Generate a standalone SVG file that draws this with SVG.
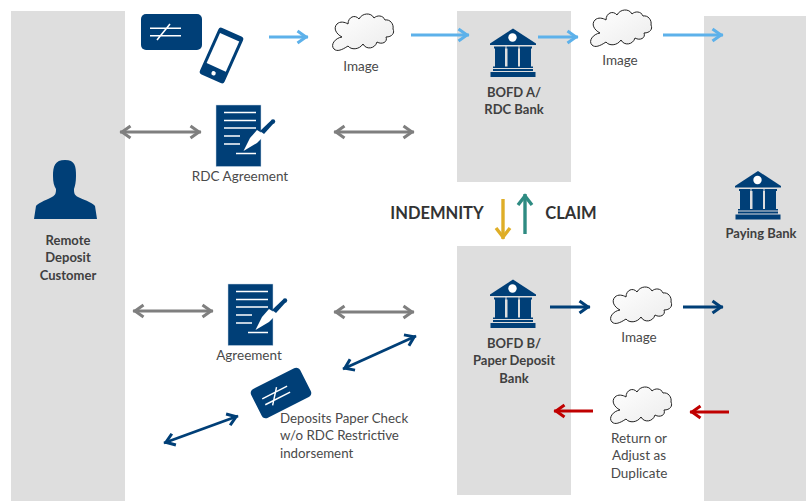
<svg xmlns="http://www.w3.org/2000/svg" width="806" height="501" viewBox="0 0 806 501">
<style>
text{font-family:"Lato","Open Sans","Liberation Sans",sans-serif;fill:#4a4a4a;font-size:13.5px;text-anchor:middle}
.b{font-weight:700;fill:#404040;font-size:13px}
.h{font-weight:700;fill:#333;font-size:16.5px}
.l{text-anchor:start;font-size:13.3px}
.panel{fill:#dedede}
.fill{fill:#003f77}
.w{stroke:#fff;stroke-width:1.6;fill:none}
.lb{stroke:#5db1ea;stroke-width:2.8;marker-end:url(#mlb)}
.gr{stroke:#7f7f7f;stroke-width:3;marker-start:url(#mgr);marker-end:url(#mgr)}
.nv{stroke:#003f77;stroke-width:2.8;marker-end:url(#mnv)}
.nd{stroke:#003f77;stroke-width:2.8;marker-start:url(#mnv);marker-end:url(#mnv)}
.rd{stroke:#c00000;stroke-width:2.8;marker-end:url(#mrd)}
.gd{stroke:#dfae27;stroke-width:3.400;marker-end:url(#mgd)}
.tl{stroke:#2e8b82;stroke-width:3.400;marker-end:url(#mtl)}
</style>
<defs>
<linearGradient id="cg" x1="0" y1="0" x2="1" y2="1"><stop offset="0" stop-color="#fff"/><stop offset="1" stop-color="#ececec"/></linearGradient>
<marker id="mlb" markerUnits="userSpaceOnUse" markerWidth="18" markerHeight="18" refX="15" refY="9" orient="auto-start-reverse"><path d="M4.500 3L13 9L4.500 15" fill="none" stroke="#5db1ea" stroke-width="3"/></marker>
<marker id="mgr" markerUnits="userSpaceOnUse" markerWidth="18" markerHeight="18" refX="15" refY="9" orient="auto-start-reverse"><path d="M4.500 3L13 9L4.500 15" fill="none" stroke="#7f7f7f" stroke-width="3"/></marker>
<marker id="mnv" markerUnits="userSpaceOnUse" markerWidth="18" markerHeight="18" refX="15" refY="9" orient="auto-start-reverse"><path d="M4.500 3L13 9L4.500 15" fill="none" stroke="#003f77" stroke-width="3"/></marker>
<marker id="mrd" markerUnits="userSpaceOnUse" markerWidth="18" markerHeight="18" refX="15" refY="9" orient="auto-start-reverse"><path d="M4.500 3L13 9L4.500 15" fill="none" stroke="#c00000" stroke-width="3"/></marker>
<marker id="mgd" markerUnits="userSpaceOnUse" markerWidth="20" markerHeight="20" refX="16" refY="10" orient="auto-start-reverse"><path d="M5 3L14 10L5 17" fill="none" stroke="#dfae27" stroke-width="3.400"/></marker>
<marker id="mtl" markerUnits="userSpaceOnUse" markerWidth="20" markerHeight="20" refX="16" refY="10" orient="auto-start-reverse"><path d="M5 3L14 10L5 17" fill="none" stroke="#2e8b82" stroke-width="3.400"/></marker>
<g id="bank">
<path class="fill" d="M0 15L23 0L46 15V16.500H0Z"/>
<circle cx="22.500" cy="9" r="4.200" fill="#fff"/>
<path class="fill" d="M4 18H15.500V20H15V38H16V39.500H3V38H5V20H4ZM16.500 18H28.500V20H28V38H29V39.500H16V38H17.500V20H16.500ZM29.500 18H42V20H41V38H43V39.500H29V38H30V20H29.500ZM3 40.500H43V42.500H3ZM0.500 43.500H45.500V48.500H0.500Z"/>
</g>
<g id="cloud">
<path d="M4 36C0 32 5 25 12 24C6 21 3 15 7 11C10 8 15 9 18 11C18 4 25 1 29 6C32 0 41 -1 44 5C47 2 53 2 55 7C60 6 64 11 63 16C65 20 62 24 56 24C58 29 52 32 47 29C45 36 36 37 33 31C29 37 21 37 18 33C12 37 7 39 4 36Z" fill="url(#cg)" stroke="#222" stroke-width="1"/>
</g>
<g id="doc">
<rect class="fill" width="45" height="61.500" stroke="#c8d8e8" stroke-width=".5"/>
<path class="w" d="M8 7.500H40M8 15.500H40M8 23H40M8 31H24M8 39H24M20 48.500H40"/>
<path fill="#fff" d="M27.500 46L34 33L41 25L49 30L41 38Z"/>
<path class="fill" d="M44 26L55 15.500L58 18L48 29Z"/>
<circle class="fill" cx="57" cy="16.500" r="2.200"/>
</g>
<g id="chk">
<rect class="fill" x="-30.500" y="-18" width="61" height="36" rx="5"/>
<path class="w" d="M-21.500 -3.700H9.500M-21.500 3.700H9.500M-14.500 8L-1.500 -8"/>
</g>
</defs>

<g id="panels">
<rect id="panel-customer" class="panel" x="11" y="11" width="114" height="490"/>
<rect id="panel-bofd-a" class="panel" x="457" y="11" width="114" height="171"/>
<rect id="panel-bofd-b" class="panel" x="457" y="246" width="114" height="249"/>
<rect id="panel-paying" class="panel" x="704" y="16" width="102" height="485"/>
</g>

<g id="connectors">
<path class="lb" d="M269 37H308"/>
<path class="lb" d="M411 35H469"/>
<path class="lb" d="M538 37H578"/>
<path class="lb" d="M663 35H723"/>
<path class="gr" d="M120 132H201"/>
<path class="gr" d="M334 132H414"/>
<path class="gr" d="M133 311H213"/>
<path class="gr" d="M334 312H414"/>
<path class="nd" d="M343 369L416 336"/>
<path class="nd" d="M164 443L238 416"/>
<path class="nv" d="M550 307H590"/>
<path class="nv" d="M683 307H723"/>
<path class="rd" d="M593 411H554"/>
<path class="rd" d="M729 412H690"/>
<path class="gd" d="M503 199V239"/>
<path class="tl" d="M525 234V194"/>
</g>

<g id="customer">
<path class="fill" d="M34 219L36 206C38 203 44 201 52 197C56 195 56 192 56 189C54 186 53 182 53 176C53 166 55 160 65 160C75 160 76 166 76 176C76 182 75 186 74 189C74 192 74 195 78 197C87 201 93 203 95 206L97 219Z"/>
<text class="b" x="68" y="245">Remote</text>
<text class="b" x="68" y="262">Deposit</text>
<text class="b" x="68" y="280">Customer</text>
</g>

<g id="mobile-check">
<use href="#chk" x="171.500" y="32"/>
<g transform="translate(221.500,55.500) rotate(24)">
<rect class="fill" x="-13.500" y="-25.500" width="27" height="51" rx="3"/>
<rect x="-10.500" y="-20" width="21" height="33" fill="#fff"/>
<circle cx="0" cy="19.500" r="2.200" fill="#fff"/>
</g>
</g>

<g id="image-1"><use href="#cloud" x="330" y="13"/><text x="361" y="71">Image</text></g>
<g id="bofd-a"><use href="#bank" x="490" y="28.500"/><text class="b" x="514" y="97">BOFD A/</text><text class="b" x="514" y="114">RDC Bank</text></g>
<g id="image-2"><use href="#cloud" x="588" y="9"/><text x="620" y="65">Image</text></g>
<g id="paying-bank"><use href="#bank" x="735" y="171"/><text class="b" x="761" y="238">Paying Bank</text></g>
<g id="rdc-agreement"><use href="#doc" x="216" y="105"/><text x="240" y="181">RDC Agreement</text></g>
<g id="indemnity"><text class="h" x="437" y="219">INDEMNITY</text></g>
<g id="claim"><text class="h" x="571" y="219">CLAIM</text></g>
<g id="agreement"><use href="#doc" x="228" y="284"/><text x="249" y="360">Agreement</text></g>
<g id="paper-check"><use href="#chk" transform="translate(281,393) rotate(-27) scale(.9)"/>
<text class="l" x="280" y="423">Deposits Paper Check</text><text class="l" x="280" y="440">w/o RDC Restrictive</text><text class="l" x="280" y="458">indorsement</text></g>
<g id="bofd-b"><use href="#bank" x="490" y="279.500"/><text class="b" x="514" y="348">BOFD B/</text><text class="b" x="514" y="365">Paper Deposit</text><text class="b" x="514" y="383">Bank</text></g>
<g id="image-3"><use href="#cloud" x="608" y="286"/><text x="639" y="342">Image</text></g>
<g id="return"><use href="#cloud" x="608" y="386"/><text x="639" y="443">Return or</text><text x="639" y="460">Adjust as</text><text x="639" y="478">Duplicate</text></g>
</svg>
